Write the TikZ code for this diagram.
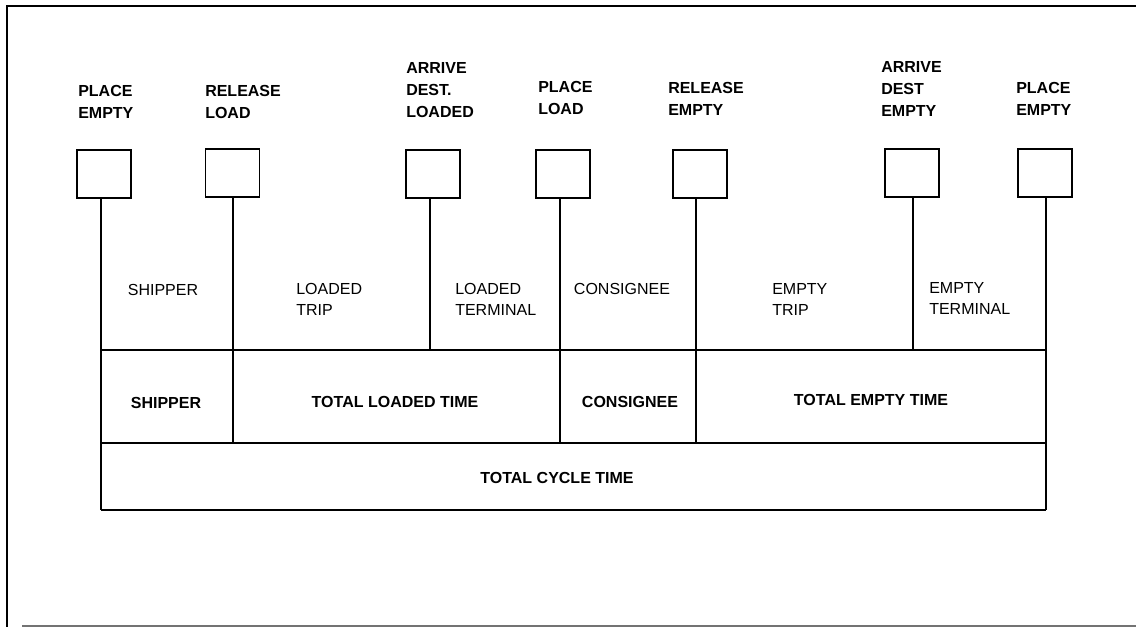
\documentclass[tikz,border=0pt]{standalone}
\usepackage{fontspec}
\setmainfont{Liberation Sans}
\begin{document}
\begin{tikzpicture}[x=0.75pt,y=-0.75pt,
  evbox/.style={draw,line width=1.2pt,minimum width=40.5pt,minimum height=36pt,inner sep=0pt},
  grid/.style={line width=1.1pt},
  frameline/.style={line width=1.6pt},
  toplab/.style={anchor=north west,inner sep=0pt,align=left,font=\fontsize{12}{16.5}\selectfont\bfseries},
  midlab/.style={inner sep=0pt,align=left,font=\fontsize{12}{15.8}\selectfont},
  totlab/.style={inner sep=0pt,font=\fontsize{12}{14}\selectfont\bfseries}]
\useasboundingbox (0,0) rectangle (1136,627);
% frame
\draw[frameline] (7,627) -- (7,6) -- (1136,6);
\draw[line width=1.2pt,black!55] (22,625.8) -- (1136,625.8);
% event boxes
\node[evbox] (b1) at (104,174) {};
\node[evbox] (b2) at (232.5,173) {};
\node[evbox] (b3) at (433,174) {};
\node[evbox] (b4) at (563,174) {};
\node[evbox] (b5) at (700,174) {};
\node[evbox] (b6) at (912,173) {};
\node[evbox] (b7) at (1045,173) {};
% event labels
\node[toplab] (t1) at (78,85) {PLACE\\EMPTY};
\node[toplab] (t2) at (205,85) {RELEASE\\LOAD};
\node[toplab] (t3) at (406,62) {ARRIVE\\DEST.\\LOADED};
\node[toplab] (t4) at (538,81) {PLACE\\LOAD};
\node[toplab] (t5) at (668,82) {RELEASE\\EMPTY};
\node[toplab] (t6) at (881,61) {ARRIVE\\DEST\\EMPTY};
\node[toplab] (t7) at (1016,82) {PLACE\\EMPTY};
% line ends
\coordinate (e1) at (101,510);
\coordinate (e2) at (233,443);
\coordinate (e3) at (430,350);
\coordinate (e4) at (560,443);
\coordinate (e5) at (696,443);
\coordinate (e6) at (913,350);
\coordinate (e7) at (1046,510);
% vertical lines
\draw[grid] (b1.south -| e1) -- (e1);
\draw[grid] (b2.south -| e2) -- (e2);
\draw[grid] (b3.south -| e3) -- (e3);
\draw[grid] (b4.south -| e4) -- (e4);
\draw[grid] (b5.south -| e5) -- (e5);
\draw[grid] (b6.south -| e6) -- (e6);
\draw[grid] (b7.south -| e7) -- (e7);
% horizontal lines
\draw[grid] (e1 |- e3) -- (e7 |- e3);
\draw[grid] (e1 |- e2) -- (e7 |- e2);
\draw[grid] (e1) -- (e7);
% segment labels
\node[midlab] (m1) at (163,290) {SHIPPER};
\node[midlab,anchor=north west] (m2) at (296,283) {LOADED\\TRIP};
\node[midlab,anchor=north west] (m3) at (455,283) {LOADED\\TERMINAL};
\node[midlab] (m4) at (622,289) {CONSIGNEE};
\node[midlab,anchor=north west] (m5) at (772,283) {EMPTY\\TRIP};
\node[midlab,anchor=north west] (m6) at (929,282) {EMPTY\\TERMINAL};
% totals
\node[totlab] (s1) at (166,402.5) {SHIPPER};
\node[totlab] (s2) at (395,402) {TOTAL LOADED TIME};
\node[totlab] (s3) at (630,402) {CONSIGNEE};
\node[totlab] (s4) at (871,400) {TOTAL EMPTY TIME};
\node[totlab] (s5) at (557,478) {TOTAL CYCLE TIME};
\end{tikzpicture}
\end{document}
